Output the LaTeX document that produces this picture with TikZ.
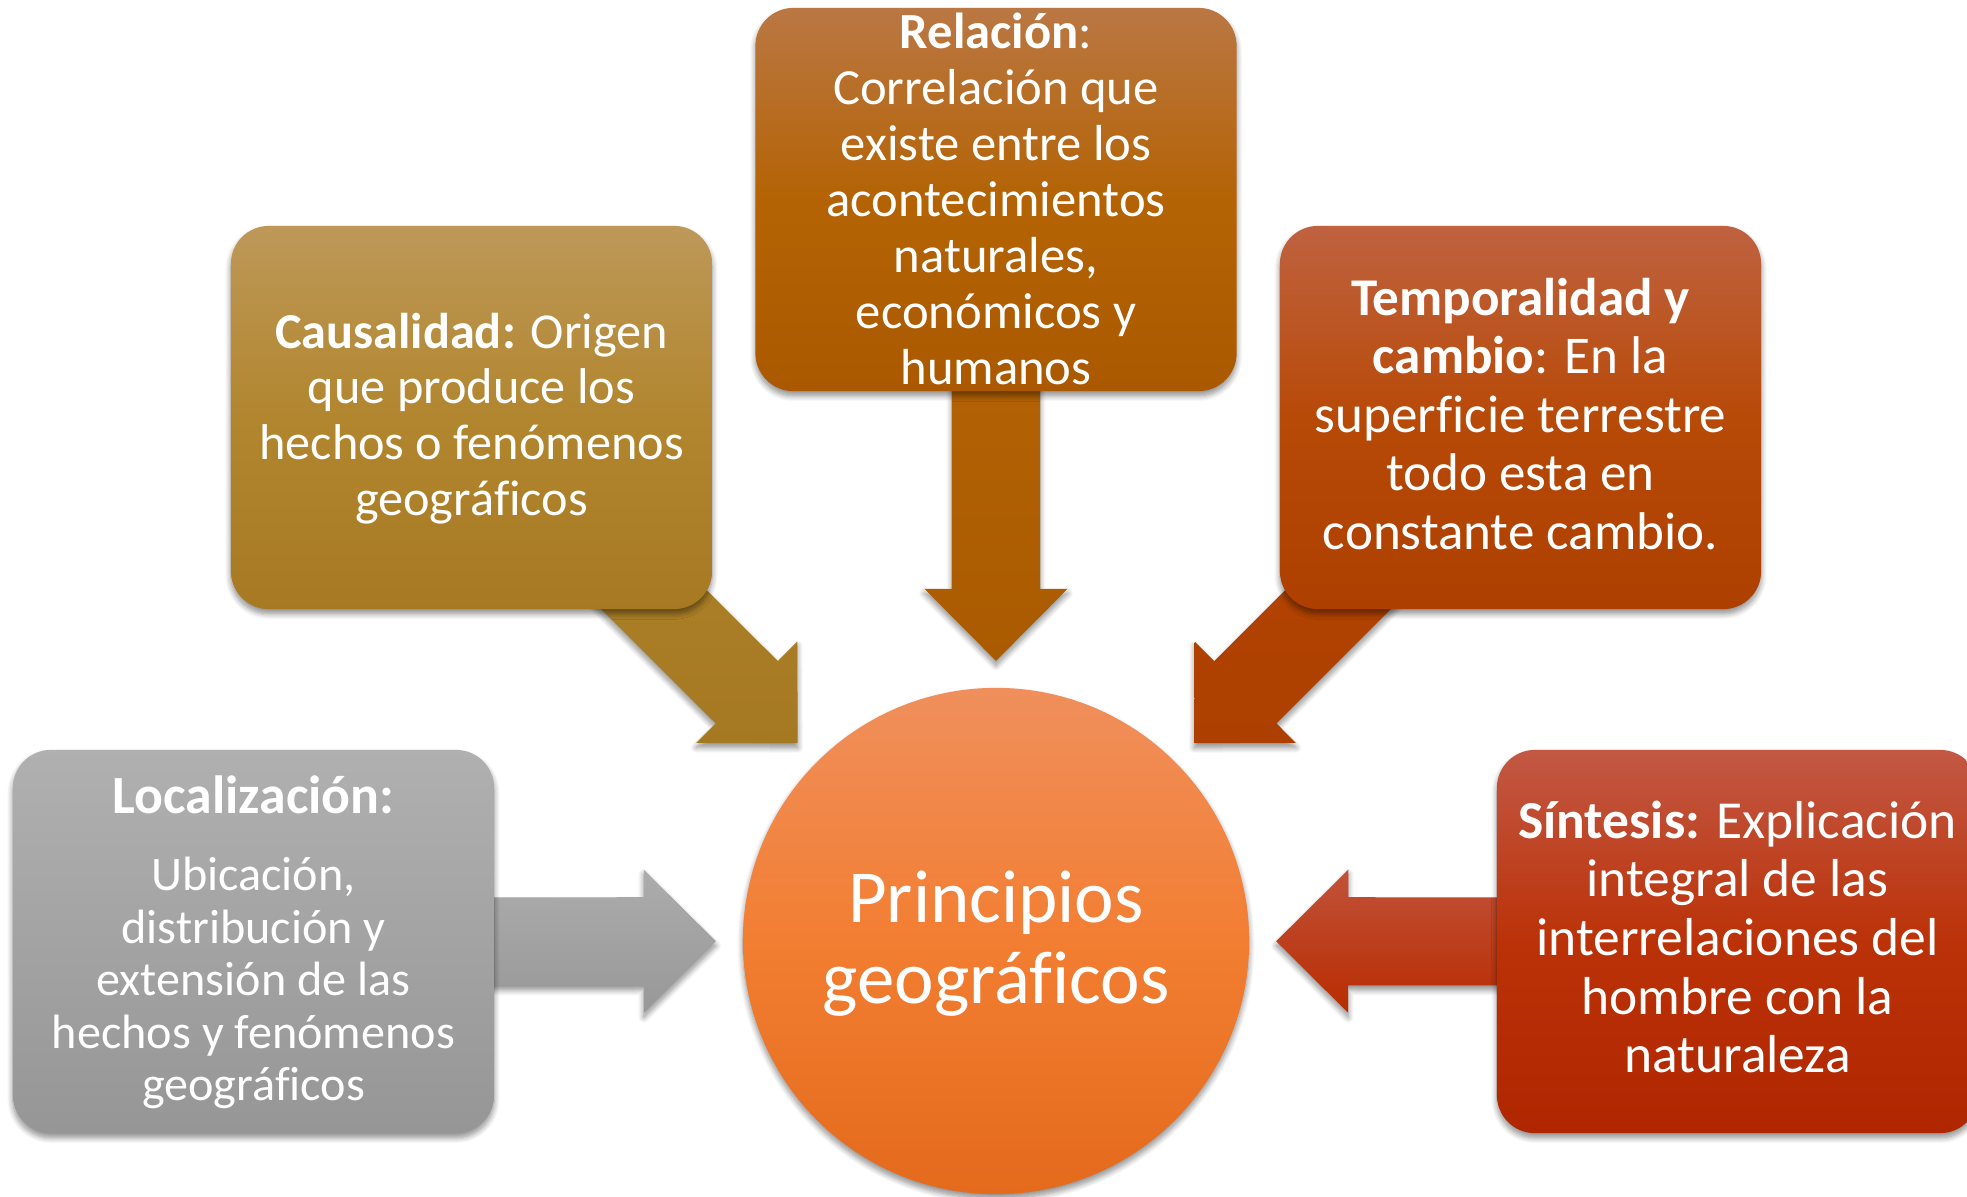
\documentclass[tikz,border=0pt]{standalone}
\usepackage{fontspec}
\setmainfont{Carlito}[Ligatures=NoCommon]
\usetikzlibrary{calc,shadows.blur}
\pgfdeclarelayer{bg}
\pgfsetlayers{bg,main}

\definecolor{relTop}{RGB}{186,119,67}
\definecolor{relMid}{RGB}{180,99,4}
\definecolor{relBot}{RGB}{170,89,0}
\definecolor{cauTop}{RGB}{189,152,88}
\definecolor{cauMid}{RGB}{178,134,47}
\definecolor{cauBot}{RGB}{166,121,34}
\definecolor{temTop}{RGB}{191,98,64}
\definecolor{temMid}{RGB}{184,74,8}
\definecolor{temBot}{RGB}{173,63,0}
\definecolor{sinTop}{RGB}{194,88,68}
\definecolor{sinMid}{RGB}{187,50,8}
\definecolor{sinBot}{RGB}{176,38,0}
\definecolor{locTop}{RGB}{176,176,176}
\definecolor{locMid}{RGB}{163,163,163}
\definecolor{locBot}{RGB}{150,150,150}
\definecolor{cirTop}{RGB}{240,143,92}
\definecolor{cirMid}{RGB}{242,126,50}
\definecolor{cirBot}{RGB}{228,106,28}
\definecolor{relAT}{RGB}{184,103,8}
\definecolor{relAB}{RGB}{170,90,0}
\definecolor{cauAT}{RGB}{178,136,44}
\definecolor{cauAB}{RGB}{165,120,34}
\definecolor{temAT}{RGB}{183,72,2}
\definecolor{temAB}{RGB}{173,63,0}
\definecolor{locAT}{RGB}{172,172,172}
\definecolor{locAB}{RGB}{152,152,152}
\definecolor{sinAT}{RGB}{194,82,58}
\definecolor{sinAB}{RGB}{183,44,0}

\newcommand\tl[1]{\begin{tabular}[t]{@{}c@{}}#1\end{tabular}}

% block arrow from box #1 to circle #2 with style #3
\newcommand\blockarr[3]{%
  \coordinate (#1-h) at ($(#2.center)!3.52cm!(#1.center)$);
  \coordinate (#1-t) at ($(#2.center)!2.8cm!(#1.center)$);
  \path[#3] ($(#1.center)!0.44cm!-90:(#2.center)$)
    -- ($(#1-h)!0.44cm!90:(#1.center)$)
    -- ($(#1-h)!0.715cm!90:(#1.center)$)
    -- (#1-t)
    -- ($(#1-h)!0.715cm!-90:(#1.center)$)
    -- ($(#1-h)!0.44cm!-90:(#1.center)$)
    -- ($(#1.center)!0.44cm!90:(#2.center)$)
    -- cycle;
}

\tikzset{
  shad/.style={blur shadow={shadow xshift=0pt,shadow yshift=-1.3pt,shadow blur radius=1.6pt,shadow blur steps=8,shadow opacity=45}},
  box/.style={rounded corners=0.38cm, minimum width=4.81cm, minimum height=3.83cm, inner sep=0pt, shad},
  txt/.style={text=white, inner sep=0pt, anchor=base},
  arr/.style={shad},
}

\begin{document}
\begin{tikzpicture}[x=0.01cm,y=-0.01cm]
\useasboundingbox (0,0) rectangle (1967,1196);
\clip (0,0) rectangle (1967,1196);

% boxes
\node[box, top color=relTop, bottom color=relBot, middle color=relMid] (rel) at (996,199.5) {};
\node[box, top color=cauTop, bottom color=cauBot, middle color=cauMid] (cau) at (471.5,417.5) {};
\node[box, top color=temTop, bottom color=temBot, middle color=temMid] (tem) at (1520.5,417.5) {};
\node[box, top color=locTop, bottom color=locBot, middle color=locMid] (loc) at (253.5,941.5) {};
\node[box, top color=sinTop, bottom color=sinBot, middle color=sinMid] (sin) at (1737.5,941.5) {};

% central circle
\node[circle, minimum size=5.06cm, inner sep=0pt, shad, top color=cirTop, bottom color=cirBot, middle color=cirMid] (cen) at (996,941) {};

% arrows behind
\begin{pgfonlayer}{bg}
\blockarr{rel}{cen}{arr, top color=relAT, bottom color=relAB}
\blockarr{cau}{cen}{arr, top color=cauAT, bottom color=cauAB}
\blockarr{tem}{cen}{arr, top color=temAT, bottom color=temAB}
\blockarr{loc}{cen}{arr, top color=locAT, bottom color=locAB}
\blockarr{sin}{cen}{arr, top color=sinAT, bottom color=sinAB}
\end{pgfonlayer}

% texts
\node[txt, font=\fontsize{14.4}{15.95}\selectfont] (relT) at (996,48)
  {\tl{\textbf{Relación}:\\Correlación que\\existe entre los\\acontecimientos\\naturales,\\económicos y\\humanos}};
\node[txt, font=\fontsize{14.3}{15.9}\selectfont] (cauT) at (471.5,348)
  {\tl{\textbf{Causalidad:} Origen\\que produce los\\hechos o fenómenos\\geográficos}};
\node[txt, font=\fontsize{15.1}{16.65}\selectfont] (temT) at (1520.5,315)
  {\tl{\textbf{Temporalidad y}\\\textbf{cambio}: En la\\superficie terrestre\\todo esta en\\constante cambio.}};
\node[txt, font=\fontsize{13.7}{14.95}\selectfont] (locT) at (253.5,813)
  {\tl{{\fontsize{15.3}{16}\selectfont\textbf{Localización:}}\\[7.1pt]Ubicación,\\distribución y\\extensión de las\\hechos y fenómenos\\geográficos}};
\node[txt, font=\fontsize{15.2}{16.7}\selectfont] (sinT) at (1737.5,838)
  {\tl{\textbf{Síntesis:} Explicación\\integral de las\\interrelaciones del\\hombre con la\\naturaleza}};
\node[txt, font=\fontsize{21.3}{23.05}\selectfont] (cenT) at (996,922)
  {\tl{Principios\\geográficos}};
\end{tikzpicture}
\end{document}
